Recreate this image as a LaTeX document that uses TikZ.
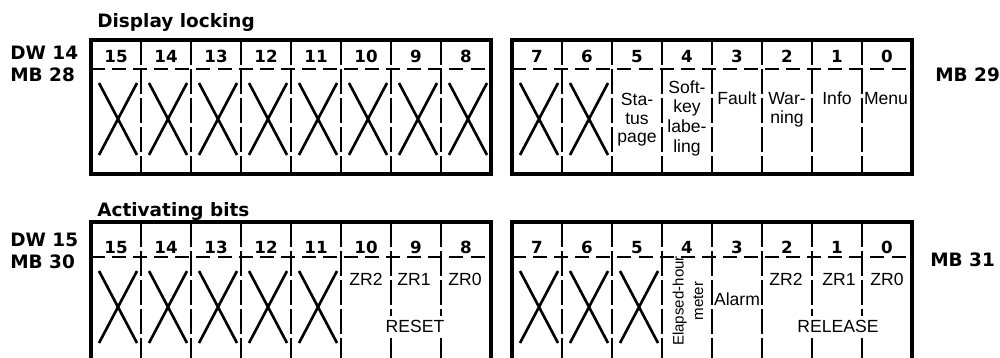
\documentclass[tikz,border=0pt]{standalone}
\usepackage{fontspec}
\setmainfont{Liberation Sans}
\newfontfamily\headfont{DejaVu Sans}

\begin{document}
\begin{tikzpicture}[
    x=0.02cm, y=-0.02cm,
    regbox/.style={line width=2pt},
    divider/.style={line width=0.7pt, dash pattern=on 14pt off 2.5pt},
    headline/.style={line width=0.7pt, dash pattern=on 8pt off 4pt},
    cross/.style={line width=1.5pt},
    title/.style={font=\headfont\fontsize{10.5}{12}\selectfont\bfseries, anchor=base west, inner sep=0pt},
    bitno/.style={font=\headfont\fontsize{9.5}{10}\selectfont\bfseries, anchor=base, inner sep=0pt},
    celltext/.style={font=\fontsize{10}{10.5}\selectfont, align=center, inner sep=1pt},
]
\useasboundingbox (0,0) rectangle (1000,358);

% Titles and word/byte labels
\node[title] (locktitle) at (97,28)  {Display locking};
\node[title] (acttitle)  at (97,216) {Activating bits};
\node[title] (dw14) at (10,60)  {DW 14};
\node[title] (mb28) at (10,82)  {MB 28};
\node[title] (mb29) at (935,82) {MB 29};
\node[title] (dw15) at (10,246) {DW 15};
\node[title] (mb30) at (10,268) {MB 30};
\node[title] (mb31) at (930,266) {MB 31};

% Register boxes (top: 40..174, bottom: 222..362)
\foreach \x in {91,512} {
    \foreach \i in {1,...,7} {
        \draw[divider] (\x+\i*50,40) -- (\x+\i*50,174);
        \draw[divider] (\x+\i*50,222) -- (\x+\i*50,362);
    }
    \draw[headline] (\x,69) -- (\x+400,69);
    \draw[headline] (\x,257) -- (\x+400,257);
    \draw[regbox] (\x,40) rectangle (\x+400,174);
    \draw[regbox] (\x,222) rectangle (\x+400,362);
}

% Bit numbers
\foreach \b [count=\i from 0] in {15,14,13,12,11,10,9,8} {
    \node[bitno] (dlh\b) at (116+\i*50,63)  {\b};
    \node[bitno] (abh\b) at (116+\i*50,253) {\b};
}
\foreach \b [count=\i from 0] in {7,6,5,4,3,2,1,0} {
    \node[bitno] (dll\b) at (537+\i*50,63)  {\b};
    \node[bitno] (abl\b) at (537+\i*50,253) {\b};
}

% Unused bits
\foreach \x in {91,141,191,241,291,341,391,441,512,562}
    \draw[cross] (\x+8,83) -- (\x+46,155) (\x+46,83) -- (\x+8,155);
\foreach \x in {91,141,191,241,291,512,562,612}
    \draw[cross] (\x+8,271) -- (\x+46,343) (\x+46,271) -- (\x+8,343);

% Display locking, MB 29
\node[celltext] (status)  at (637,120) {Sta-\\tus\\page};
\node[celltext, font=\fontsize{10}{11.2}\selectfont] (softkey) at (687,118) {Soft-\\key\\labe-\\ling};
\node[celltext, anchor=base] (fault) at (737,105) {Fault};
\node[celltext] (warning) at (787,110) {War-\\ning};
\node[celltext, anchor=base] (info) at (837,105) {Info};
\node[celltext, anchor=base] (menu) at (886,105) {Menu};

% Activating bits, MB 30
\node[celltext, anchor=base] (hzr2) at (366,285) {ZR2};
\node[celltext, anchor=base] (hzr1) at (414,285) {ZR1};
\node[celltext, anchor=base] (hzr0) at (465,285) {ZR0};
\node[celltext, anchor=base, fill=white, inner sep=2pt] (reset) at (415,332) {RESET};

% Activating bits, MB 31
\node[celltext, rotate=90, font=\fontsize{8.6}{11}\selectfont] (hourmeter) at (688,301) {Elapsed-hour\\meter};
\node[celltext, anchor=base] (alarm) at (737,305) {Alarm};
\node[celltext, anchor=base] (lzr2) at (786,285) {ZR2};
\node[celltext, anchor=base] (lzr1) at (839,285) {ZR1};
\node[celltext, anchor=base] (lzr0) at (887,285) {ZR0};
\node[celltext, anchor=base, fill=white, inner sep=2pt] (release) at (838,332) {RELEASE};

\end{tikzpicture}
\end{document}
